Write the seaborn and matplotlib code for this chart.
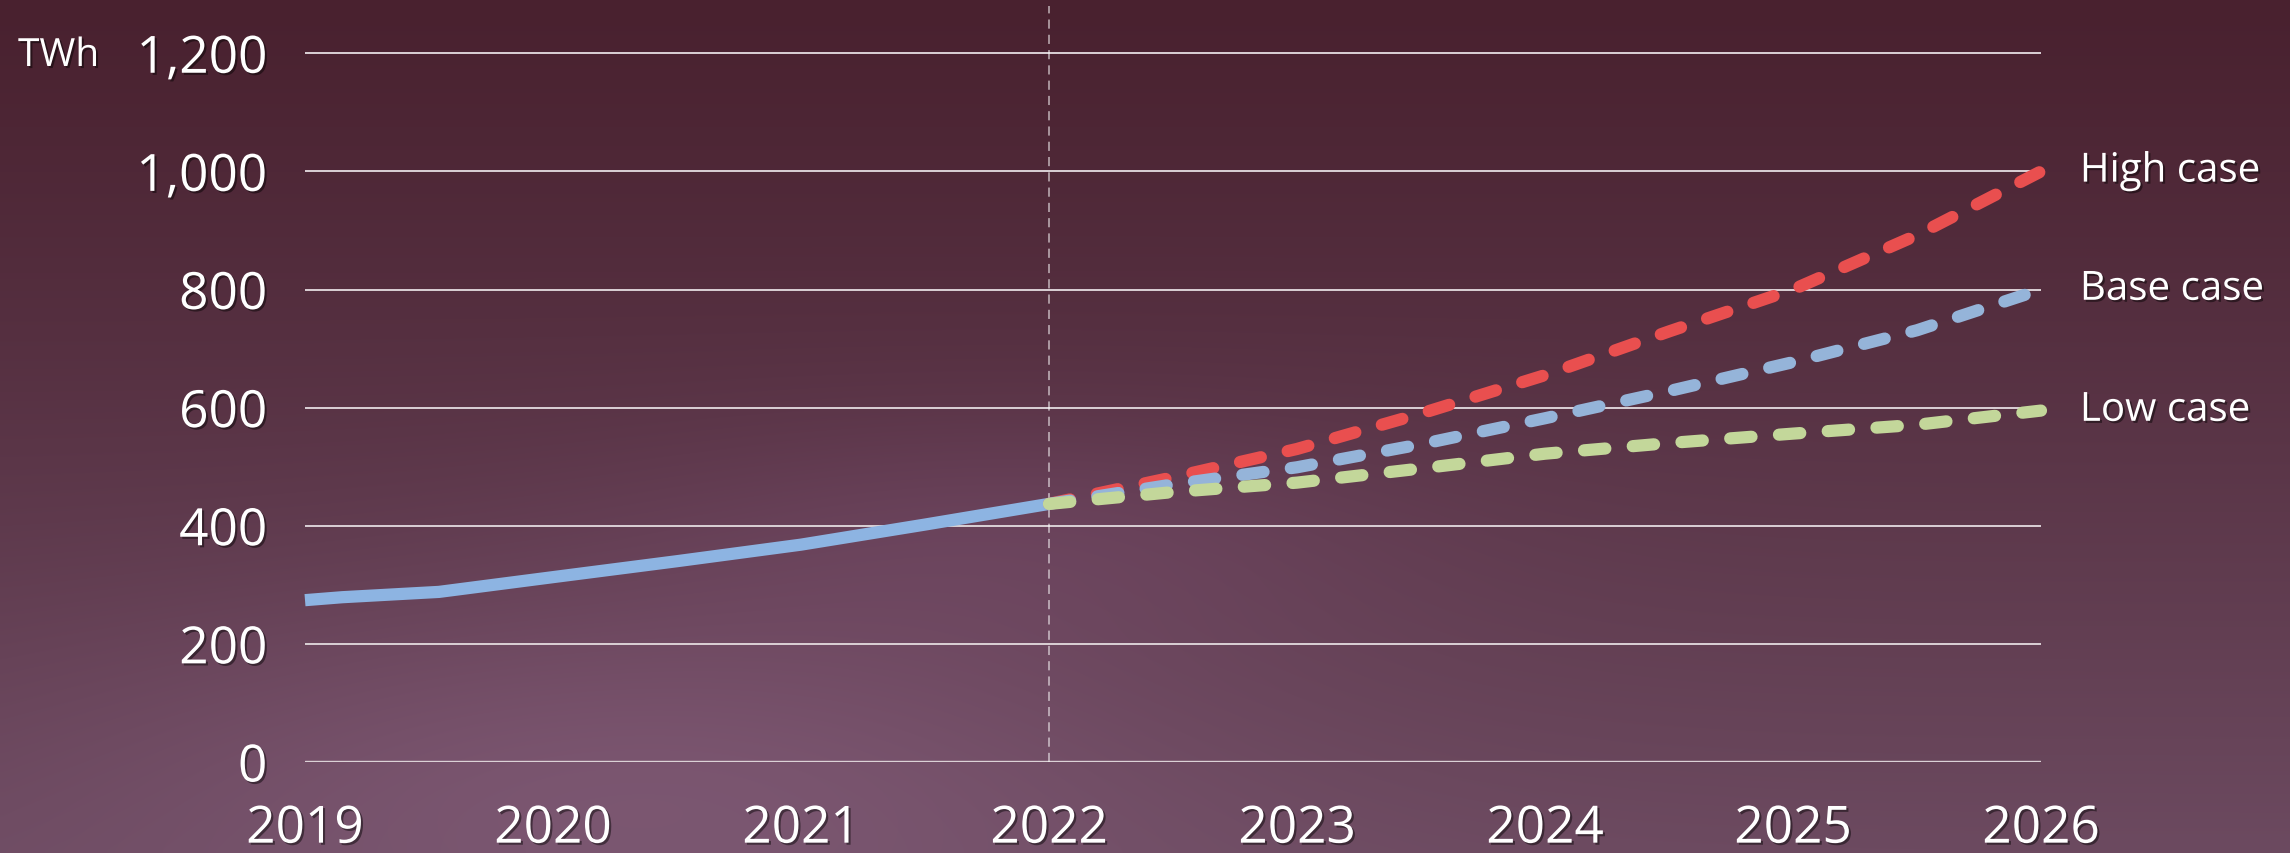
"""
plot.py - Prognoza zużycia energii (TWh) ze scenariuszami High / Base / Low
"""
import numpy as np
import pandas as pd
import matplotlib
matplotlib.use("Agg")
import matplotlib.pyplot as plt
import matplotlib.patheffects as pe
from matplotlib.ticker import FuncFormatter
import seaborn as sns

# Dane historyczne (linia ciągła)
years_hist = [2019.0, 2019.15, 2019.54, 2020.0, 2020.5, 2021.0, 2021.5, 2022.0]
twh_hist = [274, 279, 288, 313, 340, 368, 402, 437]

# Scenariusze prognozy (linie przerywane)
years_proj = [2022.0, 2022.5, 2023.0, 2023.5, 2024.0, 2024.5, 2025.0, 2025.5, 2026.0]
twh_high = [437, 482, 530, 590, 655, 729, 800, 892, 1000]
twh_base = [437, 470, 499, 538, 582, 628, 677, 731, 800]
twh_low = [437, 457, 473, 497, 522, 540, 556, 571, 595]

year_ticks = [2019, 2020, 2021, 2022, 2023, 2024, 2025, 2026]
twh_ticks = [0, 200, 400, 600, 800, 1000, 1200]
case_names = ["High case", "Base case", "Low case"]
series_order = ["Historical", "High case", "Base case", "Low case"]

palette = {
    "Historical": "#8db4e2",
    "High case": "#e94f4f",
    "Base case": "#95b4d9",
    "Low case": "#c3d79a",
}
dash_map = {
    "Historical": "",
    "High case": (1.75, 2.25),
    "Base case": (1.75, 2.25),
    "Low case": (1.75, 2.25),
}
LW = 8.8  # pt -> ok. 12 px przy dpi 100

sns.set_theme(style="white")
plt.rcParams["font.family"] = ["Open Sans", "DejaVu Sans"]

df = pd.concat([
    pd.DataFrame({"year": years_hist, "TWh": twh_hist, "series": "Historical"}),
    pd.DataFrame({"year": years_proj, "TWh": twh_high, "series": "High case"}),
    pd.DataFrame({"year": years_proj, "TWh": twh_base, "series": "Base case"}),
    pd.DataFrame({"year": years_proj, "TWh": twh_low, "series": "Low case"}),
], ignore_index=True)

fig = plt.figure(figsize=(22.9, 8.54), dpi=100)

# Tło - gładki gradient przypominający ciemne, bordowe niebo
H, W = 160, 420
yy, xx = np.mgrid[0:1:H * 1j, 0:1:W * 1j]
top = np.array([73, 33, 47]) / 255
bottom = np.array([108, 74, 96]) / 255
img = top + (bottom - top) * (yy ** 1.1)[..., None]
haze = np.exp(-((xx - 0.28) ** 2 / 0.06 + (yy - 0.9) ** 2 / 0.05))
img = img + np.array([0.07, 0.06, 0.08]) * haze[..., None]
haze2 = np.exp(-((xx - 0.45) ** 2 / 0.03 + (yy - 0.62) ** 2 / 0.02))
img = img + np.array([0.04, 0.03, 0.05]) * haze2[..., None]
bg = fig.add_axes([0, 0, 1, 1], zorder=-5)
bg.imshow(np.clip(img, 0, 1), aspect="auto", extent=(0, 1, 0, 1), interpolation="bicubic")
bg.set_axis_off()

ax = fig.add_axes([305 / 2290, 1 - 763 / 854, (2041 - 305) / 2290, (763 - 7) / 854])
ax.set_facecolor("none")

shadow = [pe.withSimplePatchShadow(offset=(1.5, -1.5), shadow_rgbFace="black", alpha=0.45)]

# Pionowa linia oddzielająca dane historyczne od prognozy
ax.axvline(2022, color=(1, 1, 1, 0.65), lw=1.1, ls=(0, (6, 4)), zorder=1)

sns.lineplot(
    data=df, x="year", y="TWh", hue="series", style="series",
    hue_order=series_order, style_order=series_order,
    palette=palette, dashes=dash_map, linewidth=LW,
    legend=False, sort=False, ax=ax, zorder=3,
)
# Dokładne ustawienie grubości i wzoru kresek (okrągłe końcówki)
for line in ax.lines[1:]:
    line.set_linewidth(LW)
    if line.get_color() != palette["Historical"]:
        line.set_linestyle((0, (1.75, 2.25)))
        line.set_dash_capstyle("round")
    else:
        line.set_solid_capstyle("butt")
    line.set_clip_on(False)

ax.set_xlim(2019, 2026)
ax.set_ylim(0, 1280)
ax.set_xticks(year_ticks)
ax.set_yticks(twh_ticks)
ax.yaxis.set_major_formatter(FuncFormatter(lambda v, _: f"{v:,.0f}"))
ax.set_xlabel("")
ax.set_ylabel("")

ax.set_axisbelow(True)
ax.yaxis.grid(True, color=(0.86, 0.82, 0.84, 0.85), lw=1.4)
ax.xaxis.grid(False)
ax.axhline(0, color=(0.9, 0.88, 0.89), lw=2.4, zorder=0.5)
sns.despine(ax=ax, left=True, bottom=True)

ax.tick_params(axis="both", length=0, colors="white", labelsize=37)
ax.tick_params(axis="y", pad=27)
ax.tick_params(axis="x", pad=30)
for lbl in ax.get_xticklabels() + ax.get_yticklabels():
    lbl.set_path_effects(shadow)

# Etykiety scenariuszy po prawej stronie
end_vals = [twh_high[-1], twh_base[-1], twh_low[-1]]
for name, val in zip(case_names, end_vals):
    ax.annotate(name, xy=(years_proj[-1], val), xytext=(28, 0), textcoords="offset points",
                va="center", ha="left", color="white", fontsize=29,
                path_effects=shadow, annotation_clip=False)

fig.text(18 / 2290, 1 - 67 / 854, "TWh", color="white", fontsize=28,
         ha="left", va="baseline", path_effects=shadow)

fig.savefig("out.png", dpi=100)
plt.close(fig)
